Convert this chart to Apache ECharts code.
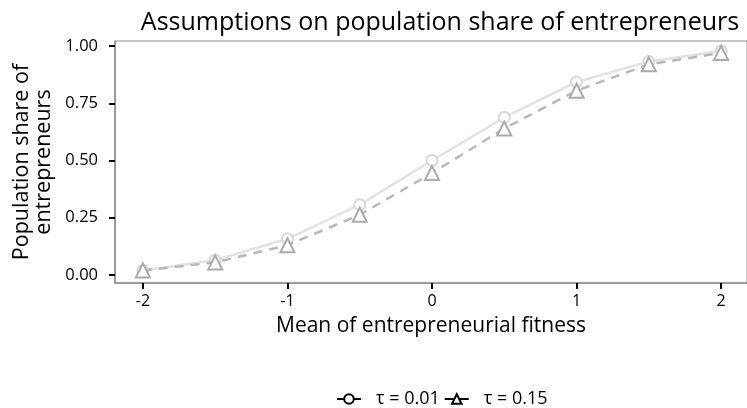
<!DOCTYPE html>
<html>
<head>
<meta charset="utf-8">
<script src="https://cdn.jsdelivr.net/npm/echarts@6/dist/echarts.min.js"></script>
<style>
  html, body { margin: 0; padding: 0; background: #fff; }
  #chart { width: 747px; height: 408px; }
</style>
</head>
<body>
<div id="chart"></div>
<script>
// mean of entrepreneurial fitness
const xValues = [-2, -1.5, -1, -0.5, 0, 0.5, 1, 1.5, 2]
// population share, tau = 0.01 (circles) and tau = 0.15 (triangles)
const shareLow = [0.02, 0.065, 0.158, 0.307, 0.5, 0.688, 0.843, 0.932, 0.978]
const shareHigh = [0.02, 0.055, 0.13, 0.263, 0.445, 0.64, 0.805, 0.92, 0.97]
const xTicks = [-2, -1, 0, 1, 2]
const yTicks = [0, 0.25, 0.5, 0.75, 1]
const seriesNames = ['τ = 0.01', 'τ = 0.15']

const font = '"Open Sans", sans-serif'
const mychart = echarts.init(document.getElementById('chart'))

const option = {
  animation: false,
  title: {
    text: 'Assumptions on population share of entrepreneurs',
    left: 435,
    top: 5,
    textAlign: 'center',
    textStyle: { fontFamily: font, fontSize: 25, fontWeight: 'normal', color: '#000' }
  },
  legend: {
    bottom: -5,
    left: 331,
    itemWidth: 24,
    itemHeight: 12,
    itemGap: 4,
    textStyle: { fontFamily: font, fontSize: 18, color: '#000', padding: [0, 0, 0, 10] },
    data: [
      {
        name: seriesNames[0],
        itemStyle: { color: '#000', borderWidth: 1.5 },
        lineStyle: { color: '#000', type: 'solid', width: 2 }
      },
      {
        name: seriesNames[1],
        itemStyle: { color: '#000', borderWidth: 1.5 },
        lineStyle: { color: '#000', type: 'solid', width: 2 }
      }
    ]
  },
  grid: {
    left: 115,
    right: -2,
    top: 41,
    bottom: 125,
    show: true,
    borderColor: '#8c8c8c',
    borderWidth: 1
  },
  xAxis: {
    type: 'value',
    min: -2.193,
    max: 2.179,
    name: 'Mean of entrepreneurial fitness',
    nameLocation: 'middle',
    nameGap: 33,
    nameTextStyle: { fontFamily: font, fontSize: 21, color: '#000' },
    axisLine: { show: true, onZero: false, lineStyle: { color: '#8c8c8c', width: 1.5 } },
    axisTick: { show: true, length: 6, customValues: xTicks, lineStyle: { color: '#000', width: 2 } },
    axisLabel: { customValues: xTicks, fontFamily: font, fontSize: 16, color: '#000', margin: 10 },
    splitLine: { show: false }
  },
  yAxis: {
    type: 'value',
    min: -0.035,
    max: 1.022,
    name: 'Population share of\nentrepreneurs',
    nameLocation: 'middle',
    nameGap: 60,
    nameRotate: 90,
    nameTextStyle: { fontFamily: font, fontSize: 21.5, color: '#000', lineHeight: 22 },
    axisLine: { show: true, onZero: false, lineStyle: { color: '#8c8c8c', width: 1.5 } },
    axisTick: { show: true, length: 6, customValues: yTicks, lineStyle: { color: '#000', width: 2 } },
    axisLabel: {
      customValues: yTicks,
      fontFamily: font,
      fontSize: 16.5,
      color: '#000',
      margin: 17,
      formatter: v => v.toFixed(2)
    },
    splitLine: { show: false }
  },
  series: [
    {
      name: seriesNames[0],
      type: 'line',
      data: xValues.map((x, i) => [x, shareLow[i]]),
      symbol: 'emptyCircle',
      symbolSize: 11,
      itemStyle: { color: '#d8d8d8', borderWidth: 2 },
      lineStyle: { color: '#e2e2e2', width: 2.5 },
      z: 2
    },
    {
      name: seriesNames[1],
      type: 'line',
      data: xValues.map((x, i) => [x, shareHigh[i]]),
      symbol: 'emptyTriangle',
      symbolSize: 14,
      itemStyle: { color: '#ababab', borderWidth: 2 },
      lineStyle: { color: '#b8b8b8', width: 2.5, type: [9, 7] },
      z: 3
    }
  ]
}
mychart.setOption(option)
</script>
</body>
</html>
